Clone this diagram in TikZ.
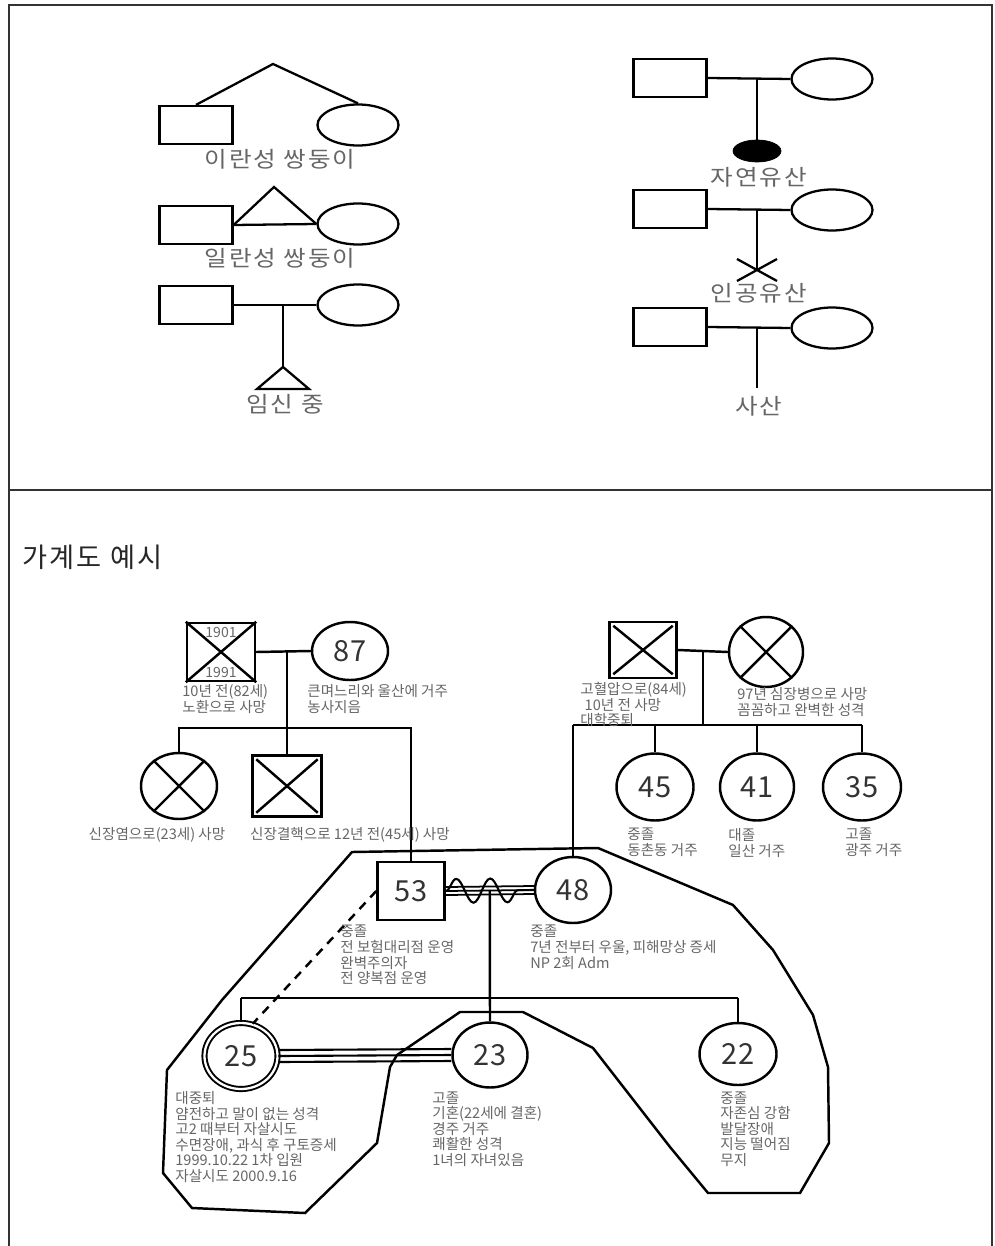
\documentclass[tikz,border=0pt]{standalone}
\usepackage{fontspec}
\setmainfont{Noto Sans CJK KR}
\newfontfamily\lblfont[FakeStretch=1.12, LetterSpace=9]{Noto Sans CJK KR}
\newfontfamily\ttlfont[LetterSpace=8]{Noto Sans CJK KR}
\usetikzlibrary{calc,shapes.geometric,decorations.pathmorphing}

\begin{document}
\begin{tikzpicture}[x=0.02cm, y=-0.02cm,
    sz/.style 2 args={minimum width=#1*0.02cm, minimum height=#2*0.02cm},
    sm/.style={draw, rectangle, line width=1.3pt, inner sep=0pt, sz={73}{38}},
    sf/.style={draw, ellipse, line width=1.3pt, inner sep=0pt, sz={81}{41}},
    sline/.style={line width=1.3pt},
    toplbl/.style={text=black!60, font=\lblfont\fontsize{12.5}{15}\selectfont, inner sep=0pt},
    pm/.style={draw, rectangle, line width=1.4pt, inner sep=0pt, text=black!80,
      font=\fontsize{16.5}{18}\selectfont},
    pf/.style={draw, ellipse, line width=1.4pt, inner sep=0pt, text=black!80,
      font=\fontsize{16.5}{18}\selectfont},
    kin/.style={line width=1.4pt},
    note/.style={text=black!60, font=\fontsize{8.3}{8.9}\selectfont, align=left,
      anchor=north west, inner sep=0pt}]
  \useasboundingbox (0,0) rectangle (994,1246);

  % 표 테두리
  \draw[line width=0.6pt, black!80] (9,1246) -- (9,5) -- (992,5) -- (992,1246);
  \draw[line width=0.6pt, black!80] (9,490) -- (992,490);

  % 이란성 쌍둥이
  \node[sm] (dzm) at (196,125) {};
  \node[sf] (dzf) at (358,125) {};
  \coordinate (dzapex) at (273,64);
  \draw[sline] (dzm.north) -- (dzapex) -- (dzf.north);
  \node[toplbl] (dzlbl) at (280,159) {이란성 쌍둥이};

  % 일란성 쌍둥이
  \node[sm] (mzm) at (196,225) {};
  \node[sf] (mzf) at (358,224) {};
  \coordinate (mzapex) at (274,187);
  \draw[sline] (mzm.east) -- (mzf.west);
  \draw[sline] (mzm.east) -- (mzapex) -- (mzf.west);
  \node[toplbl] (mzlbl) at (280,258) {일란성 쌍둥이};

  % 임신 중
  \node[sm] (pgm) at (196,305) {};
  \node[sf] (pgf) at (358,305) {};
  \coordinate (pgmid) at (283,305);
  \coordinate (pgtop) at (283,367);
  \draw[sline] (pgm.east) -- (pgf.west);
  \draw[sline] (pgmid) -- (pgtop);
  \draw[sline] (pgtop) -- (257,389) -- (309,389) -- cycle;
  \node[toplbl] (pglbl) at (285,404) {임신 중};

  % 자연유산
  \node[sm] (sam) at (670,78) {};
  \node[sf] (saf) at (832,79) {};
  \coordinate (samid) at (757,78);
  \node[draw, fill=black, ellipse, inner sep=0pt, sz={48}{22}] (sa) at (757,151) {};
  \draw[sline] (sam.east) -- (saf.west);
  \draw[sline] (samid) -- (sa.north);
  \node[toplbl] (salbl) at (759,177) {자연유산};

  % 인공유산
  \node[sm] (iam) at (670,209) {};
  \node[sf] (iaf) at (832,210) {};
  \coordinate (iamid) at (757,209);
  \coordinate (ia) at (757,270);
  \draw[sline] (iam.east) -- (iaf.west);
  \draw[sline] (iamid) -- (ia);
  \draw[sline] ($(ia)+(-20,-11)$) -- ($(ia)+(20,11)$)
    ($(ia)+(-20,11)$) -- ($(ia)+(20,-11)$);
  \node[toplbl] (ialbl) at (759,293) {인공유산};

  % 사산
  \node[sm] (sbm) at (670,327) {};
  \node[sf] (sbf) at (832,328) {};
  \coordinate (sbmid) at (757,327);
  \coordinate (sb) at (757,388);
  \draw[sline] (sbm.east) -- (sbf.west);
  \draw[sline] (sbmid) -- (sb);
  \node[toplbl] (sblbl) at (759,406) {사산};

  % 가계도 예시
  \node[anchor=west, inner sep=0pt, text=black!85,
    font=\ttlfont\fontsize{15.5}{18}\selectfont] (title) at (22,557) {가계도 예시};

  % 친가
  \node[pm, sz={68}{58}] (gf) at (221,652) {};
  \node[pf, sz={76}{58}] (gm) at (350,651) {87};
  \draw[kin] (gf.north west) -- (gf.south east) (gf.north east) -- (gf.south west);
  \node[text=black!60, font=\fontsize{8}{9}\selectfont, inner sep=0pt] (gfb) at (221,632) {1901};
  \node[text=black!60, font=\fontsize{8}{9}\selectfont, inner sep=0pt] (gfd) at (221,672) {1991};
  \node[pf, sz={76}{66}] (un1) at (179,786) {};
  \node[pm, sz={69}{61}] (un2) at (287,786) {};
  \draw[kin] (un1.45) -- (un1.225) (un1.135) -- (un1.315);
  \draw[kin] ([shift={(5,5)}]un2.north west) -- ([shift={(-5,-5)}]un2.south east)
    ([shift={(-5,5)}]un2.north east) -- ([shift={(5,-5)}]un2.south west);
  \coordinate (pmid) at (287,652);
  \coordinate (psib) at (0,728);
  \node[pm, sz={67}{58}] (fa) at (411,891) {53};
  \draw[kin] (gf.east) -- (gm.west);
  \draw[kin] (pmid) -- (un2.north);
  \draw[kin] (un1.north) -- (un1.north |- psib) -- (fa.north |- psib) -- (fa.north);

  % 외가
  \node[pm, sz={67}{56}] (mgf) at (643,650) {};
  \node[pf, sz={74}{70}] (mgm) at (766,652) {};
  \draw[kin] ([shift={(5,5)}]mgf.north west) -- ([shift={(-5,-5)}]mgf.south east)
    ([shift={(-5,5)}]mgf.north east) -- ([shift={(5,-5)}]mgf.south west);
  \draw[kin] (mgm.45) -- (mgm.225) (mgm.135) -- (mgm.315);
  \node[pf, sz={76}{66}] (mo) at (573,890) {48};
  \node[pf, sz={77}{67}] (a45) at (655,787) {45};
  \node[pf, sz={74}{67}] (a41) at (757,787) {41};
  \node[pf, sz={78}{67}] (a35) at (862,787) {35};
  \coordinate (mmid) at (703,652);
  \coordinate (msib) at (0,725);
  \draw[kin] (mgf.east) -- (mgm.west);
  \draw[kin] (mmid) -- (mmid |- msib);
  \draw[kin] (mo.north |- msib) -- (a35.north |- msib);
  \draw[kin] (mo.north |- msib) -- (mo.north);
  \draw[kin] (a45.north |- msib) -- (a45.north);
  \draw[kin] (a41.north |- msib) -- (a41.north);
  \draw[kin] (a35.north |- msib) -- (a35.north);

  % 부부관계 (53 - 48)
  \foreach \d in {-4,0,4}
    \draw[line width=1pt] ([yshift=\d*0.02cm]fa.east) -- ([yshift=\d*0.02cm]mo.west);
  \draw[line width=1.2pt, decorate,
    decoration={snake, segment length=0.68cm, amplitude=0.24cm}] (fa.east) -- (mo.west);

  % 자녀
  \node[pf, sz={73}{66}, double, double distance=1.3pt, line width=1.1pt] (c25) at (241,1056) {25};
  \node[pf, sz={75}{65}] (c23) at (490,1055) {23};
  \node[pf, sz={77}{62}] (c22) at (738,1054) {22};
  \coordinate (cmid) at ($(fa.east)!0.5!(mo.west)$);
  \coordinate (csib) at (0,998);
  \draw[kin] (cmid) -- (c23.north);
  \draw[kin] (c25.north |- csib) -- (c22.north |- csib);
  \draw[kin] (c25.north |- csib) -- (c25.north);
  \draw[kin] (c22.north |- csib) -- (c22.north);
  \foreach \d in {-6,0,6}
    \draw[line width=1.2pt] ([yshift=\d*0.02cm]c25.east) -- ([yshift=\d*0.02cm]c23.west);
  \draw[kin, dash pattern=on 5pt off 4pt] (fa.west) -- (c25.70);

  % 동거 가족 경계
  \draw[kin] (352,852) -- (598,848) -- (733,905) -- (773,950) -- (813,1015)
    -- (828,1067) -- (829,1143) -- (800,1193) -- (708,1193) -- (670,1147)
    -- (593,1048) -- (523,1012) -- (460,1012) -- (397,1055) -- (390,1067)
    -- (377,1143) -- (305,1213) -- (192,1208) -- (163,1173) -- (167,1070)
    -- (222,1000) -- cycle;

  % 설명
  \node[note] (gfn) at (182,684) {10년 전(82세)\\노환으로 사망};
  \node[note] (gmn) at (307,684) {큰며느리와 울산에 거주\\농사지음};
  \node[note, anchor=north] (un1n) at (157,827) {신장염으로(23세) 사망};
  \node[note, anchor=north] (un2n) at (350,827) {신장결핵으로 12년 전(45세) 사망};
  \node[note] (mgfn) at (580,682) {고혈압으로(84세)\\\hspace{0.3em}10년 전 사망\\대학중퇴};
  \node[note] (mgmn) at (737,687) {97년 심장병으로 사망\\꼼꼼하고 완벽한 성격};
  \node[note] (a45n) at (627,828) {중졸\\동촌동 거주};
  \node[note] (a41n) at (728,828) {대졸\\일산 거주};
  \node[note] (a35n) at (845,828) {고졸\\광주 거주};
  \node[note] (fan) at (340,925) {중졸\\전 보험대리점 운영\\완벽주의자\\전 양복점 운영};
  \node[note] (mon) at (530,925) {중졸\\7년 전부터 우울, 피해망상 증세\\NP 2회 Adm};
  \node[note] (c25n) at (175,1091) {대중퇴\\얌전하고 말이 없는 성격\\고2 때부터 자살시도\\수면장애, 과식 후 구토증세\\1999.10.22 1차 입원\\자살시도 2000.9.16};
  \node[note] (c23n) at (432,1091) {고졸\\기혼(22세에 결혼)\\경주 거주\\쾌활한 성격\\1녀의 자녀있음};
  \node[note] (c22n) at (720,1091) {중졸\\자존심 강함\\발달장애\\지능 떨어짐\\무지};
\end{tikzpicture}
\end{document}
